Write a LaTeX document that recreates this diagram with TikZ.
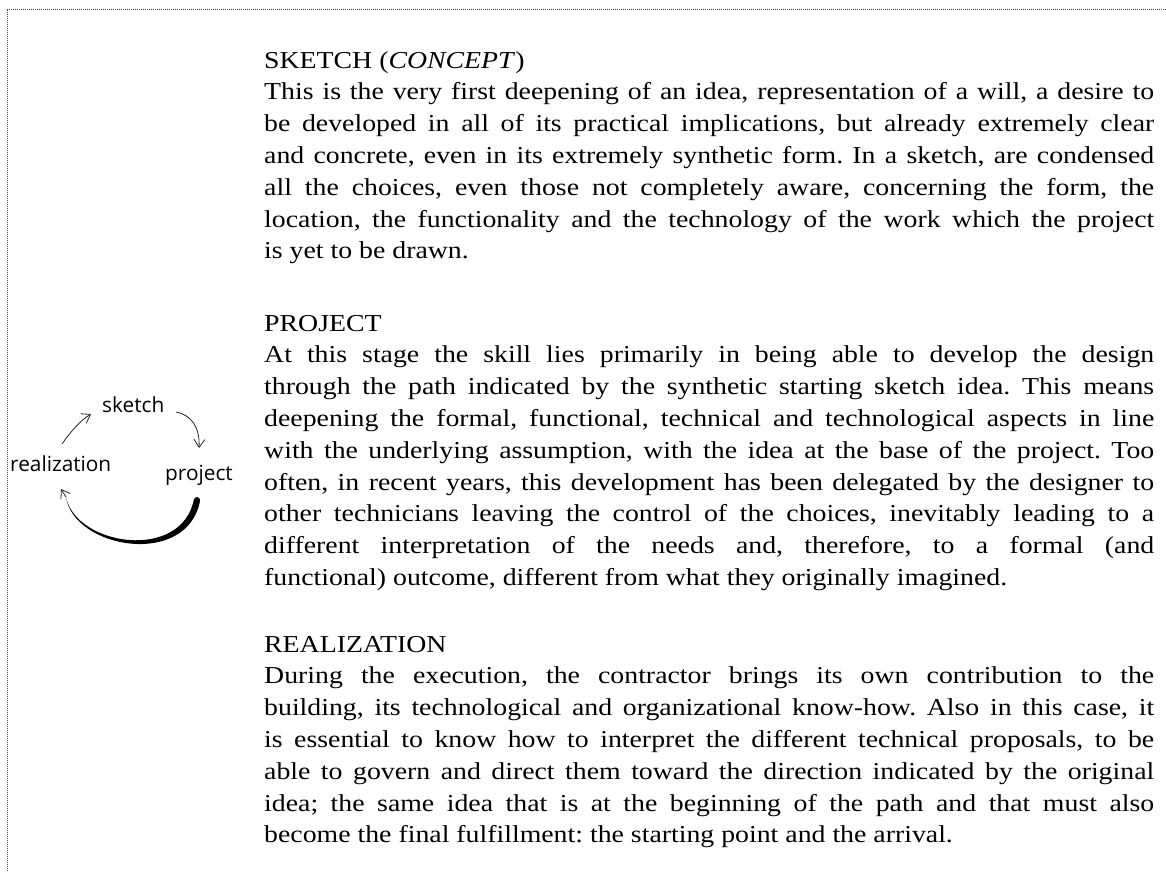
\documentclass[tikz,border=0pt]{standalone}
\usepackage{fontspec}
\setmainfont{Liberation Serif}[FakeStretch=1.144]
\newfontfamily\handfont{Open Sans}
\usetikzlibrary{arrows.meta}
\tolerance=10000
\hyphenpenalty=10000
\frenchspacing
\begin{document}
\begin{tikzpicture}[x=1pt,y=-1pt,
  para/.style={text width=890pt, align=justify, inner sep=0pt, anchor=base west,
    font=\frenchspacing\fontsize{24.3}{31.8}\selectfont},
  hand/.style={inner sep=0pt, anchor=base west, font=\handfont\fontsize{20.8}{24}\selectfont, text=black},
  frame/.style={densely dotted, line width=1pt, black!70},
  thinarrow/.style={line width=0.8pt, black!85, -{Straight Barb[length=8pt,width=11pt]}}
]
\useasboundingbox (0,0) rectangle (1166,871);
\draw[frame] (7,871) -- (7,9) -- (1166,9);

\node[para] (sketchtxt) at (264,68) {SKETCH (\textit{CONCEPT})\\
This is the very first deepening of an idea, representation of a will, a desire to\linebreak
be developed in all of its practical implications, but already extremely clear\linebreak
and concrete, even in its extremely synthetic form. In a sketch, are condensed\linebreak
all the choices, even those not completely aware, concerning the form, the\linebreak
location, the functionality and the technology of the work which the project\linebreak
is yet to be drawn.};

\node[para] (projtxt) at (264,331) {PROJECT\\
At this stage the skill lies primarily in being able to develop the design\linebreak
through the path indicated by the synthetic starting sketch idea. This means\linebreak
deepening the formal, functional, technical and technological aspects in line\linebreak
with the underlying assumption, with the idea at the base of the project. Too\linebreak
often, in recent years, this development has been delegated by the designer to\linebreak
other technicians leaving the control of the choices, inevitably leading to a\linebreak
different interpretation of the needs and, therefore, to a formal (and\linebreak
functional) outcome, different from what they originally imagined.};

\node[para] (realtxt) at (264,652) {REALIZATION\\
During the execution, the contractor brings its own contribution to the\linebreak
building, its technological and organizational know-how. Also in this case, it\linebreak
is essential to know how to interpret the different technical proposals, to be\linebreak
able to govern and direct them toward the direction indicated by the original\linebreak
idea; the same idea that is at the beginning of the path and that must also\linebreak
become the final fulfillment: the starting point and the arrival.};

% cycle diagram
\node[hand] (sketch) at (102,412) {sketch};
\node[hand] (realization) at (10,471) {realization};
\node[hand] (project) at (165,480) {project};

\coordinate (rs1) at (62,444);
\coordinate (rs2) at (91,414);
\coordinate (sp1) at (176,412);
\coordinate (sp2) at (199,448);
\coordinate (pr1) at (197,500);
\coordinate (pr2) at (66,497);
\coordinate (prtip) at (61,489);

\draw[thinarrow] (rs1) .. controls (71,431) and (81,420) .. (rs2);
\draw[thinarrow] (sp1) .. controls (192,415) and (200,428) .. (sp2);
\fill[black] (pr2) .. controls (74,549) and (187,568) .. (200,501)
  -- (194,499) .. controls (182,562) and (76,546) .. (pr2) -- cycle;
\fill[black] (pr1) circle (3);
\draw[thinarrow] (pr2) -- (prtip);
\end{tikzpicture}
\end{document}
